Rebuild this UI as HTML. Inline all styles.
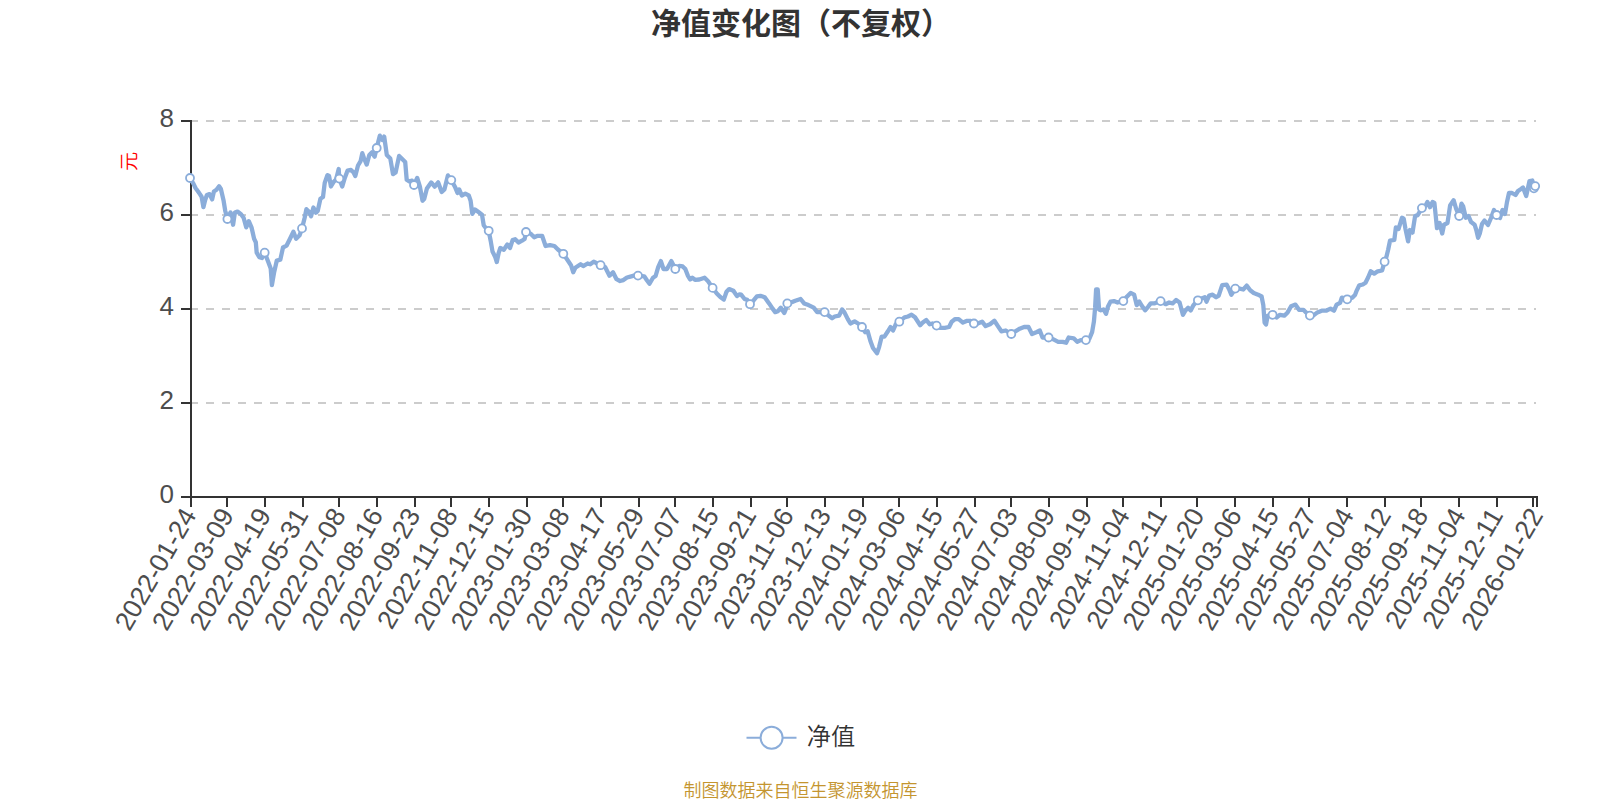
<!DOCTYPE html>
<html><head><meta charset="utf-8"><title>净值变化图（不复权）</title>
<style>html,body{margin:0;padding:0;background:#fff;}svg{display:block;}</style></head><body>
<svg width="1600" height="800" viewBox="0 0 1600 800">
<rect width="1600" height="800" fill="#fff"/>
<text x="801" y="34" text-anchor="middle" font-family='"Liberation Sans", "Noto Sans CJK SC", sans-serif' font-size="30" font-weight="bold" fill="#333">净值变化图（不复权）</text>
<line x1="190" y1="403.0" x2="1536" y2="403.0" stroke="#ccc" stroke-width="2" stroke-dasharray="8 8"/>
<line x1="190" y1="309.0" x2="1536" y2="309.0" stroke="#ccc" stroke-width="2" stroke-dasharray="8 8"/>
<line x1="190" y1="215.0" x2="1536" y2="215.0" stroke="#ccc" stroke-width="2" stroke-dasharray="8 8"/>
<line x1="190" y1="121.0" x2="1536" y2="121.0" stroke="#ccc" stroke-width="2" stroke-dasharray="8 8"/>
<line x1="191.0" y1="120" x2="191.0" y2="498.0" stroke="#333" stroke-width="2"/>
<line x1="181" y1="497.0" x2="191.0" y2="497.0" stroke="#333" stroke-width="2"/>
<text x="174" y="502.5" text-anchor="end" font-family='"Liberation Sans", "Noto Sans CJK SC", sans-serif' font-size="26" fill="#4d4d4d">0</text>
<line x1="181" y1="403.0" x2="191.0" y2="403.0" stroke="#333" stroke-width="2"/>
<text x="174" y="408.5" text-anchor="end" font-family='"Liberation Sans", "Noto Sans CJK SC", sans-serif' font-size="26" fill="#4d4d4d">2</text>
<line x1="181" y1="309.0" x2="191.0" y2="309.0" stroke="#333" stroke-width="2"/>
<text x="174" y="314.5" text-anchor="end" font-family='"Liberation Sans", "Noto Sans CJK SC", sans-serif' font-size="26" fill="#4d4d4d">4</text>
<line x1="181" y1="215.0" x2="191.0" y2="215.0" stroke="#333" stroke-width="2"/>
<text x="174" y="220.5" text-anchor="end" font-family='"Liberation Sans", "Noto Sans CJK SC", sans-serif' font-size="26" fill="#4d4d4d">6</text>
<line x1="181" y1="121.0" x2="191.0" y2="121.0" stroke="#333" stroke-width="2"/>
<text x="174" y="126.5" text-anchor="end" font-family='"Liberation Sans", "Noto Sans CJK SC", sans-serif' font-size="26" fill="#4d4d4d">8</text>
<line x1="190" y1="497.0" x2="1538.0" y2="497.0" stroke="#333" stroke-width="2"/>
<line x1="191" y1="497.0" x2="191" y2="507.0" stroke="#333" stroke-width="2"/>
<line x1="227" y1="497.0" x2="227" y2="507.0" stroke="#333" stroke-width="2"/>
<line x1="265" y1="497.0" x2="265" y2="507.0" stroke="#333" stroke-width="2"/>
<line x1="303" y1="497.0" x2="303" y2="507.0" stroke="#333" stroke-width="2"/>
<line x1="339" y1="497.0" x2="339" y2="507.0" stroke="#333" stroke-width="2"/>
<line x1="377" y1="497.0" x2="377" y2="507.0" stroke="#333" stroke-width="2"/>
<line x1="415" y1="497.0" x2="415" y2="507.0" stroke="#333" stroke-width="2"/>
<line x1="451" y1="497.0" x2="451" y2="507.0" stroke="#333" stroke-width="2"/>
<line x1="489" y1="497.0" x2="489" y2="507.0" stroke="#333" stroke-width="2"/>
<line x1="527" y1="497.0" x2="527" y2="507.0" stroke="#333" stroke-width="2"/>
<line x1="563" y1="497.0" x2="563" y2="507.0" stroke="#333" stroke-width="2"/>
<line x1="601" y1="497.0" x2="601" y2="507.0" stroke="#333" stroke-width="2"/>
<line x1="639" y1="497.0" x2="639" y2="507.0" stroke="#333" stroke-width="2"/>
<line x1="675" y1="497.0" x2="675" y2="507.0" stroke="#333" stroke-width="2"/>
<line x1="713" y1="497.0" x2="713" y2="507.0" stroke="#333" stroke-width="2"/>
<line x1="751" y1="497.0" x2="751" y2="507.0" stroke="#333" stroke-width="2"/>
<line x1="787" y1="497.0" x2="787" y2="507.0" stroke="#333" stroke-width="2"/>
<line x1="825" y1="497.0" x2="825" y2="507.0" stroke="#333" stroke-width="2"/>
<line x1="863" y1="497.0" x2="863" y2="507.0" stroke="#333" stroke-width="2"/>
<line x1="899" y1="497.0" x2="899" y2="507.0" stroke="#333" stroke-width="2"/>
<line x1="937" y1="497.0" x2="937" y2="507.0" stroke="#333" stroke-width="2"/>
<line x1="975" y1="497.0" x2="975" y2="507.0" stroke="#333" stroke-width="2"/>
<line x1="1011" y1="497.0" x2="1011" y2="507.0" stroke="#333" stroke-width="2"/>
<line x1="1049" y1="497.0" x2="1049" y2="507.0" stroke="#333" stroke-width="2"/>
<line x1="1087" y1="497.0" x2="1087" y2="507.0" stroke="#333" stroke-width="2"/>
<line x1="1123" y1="497.0" x2="1123" y2="507.0" stroke="#333" stroke-width="2"/>
<line x1="1161" y1="497.0" x2="1161" y2="507.0" stroke="#333" stroke-width="2"/>
<line x1="1197" y1="497.0" x2="1197" y2="507.0" stroke="#333" stroke-width="2"/>
<line x1="1235" y1="497.0" x2="1235" y2="507.0" stroke="#333" stroke-width="2"/>
<line x1="1273" y1="497.0" x2="1273" y2="507.0" stroke="#333" stroke-width="2"/>
<line x1="1309" y1="497.0" x2="1309" y2="507.0" stroke="#333" stroke-width="2"/>
<line x1="1347" y1="497.0" x2="1347" y2="507.0" stroke="#333" stroke-width="2"/>
<line x1="1385" y1="497.0" x2="1385" y2="507.0" stroke="#333" stroke-width="2"/>
<line x1="1421" y1="497.0" x2="1421" y2="507.0" stroke="#333" stroke-width="2"/>
<line x1="1459" y1="497.0" x2="1459" y2="507.0" stroke="#333" stroke-width="2"/>
<line x1="1497" y1="497.0" x2="1497" y2="507.0" stroke="#333" stroke-width="2"/>
<line x1="1533" y1="497.0" x2="1533" y2="507.0" stroke="#333" stroke-width="2"/>
<line x1="1537" y1="497.0" x2="1537" y2="507.0" stroke="#333" stroke-width="2"/>
<text transform="translate(189.2,510.3) rotate(-60)" x="0" y="0" dy="0.35em" text-anchor="end" font-family='"Liberation Sans", "Noto Sans CJK SC", sans-serif' font-size="26.5" fill="#4d4d4d">2022-01-24</text>
<text transform="translate(226.6,510.3) rotate(-60)" x="0" y="0" dy="0.35em" text-anchor="end" font-family='"Liberation Sans", "Noto Sans CJK SC", sans-serif' font-size="26.5" fill="#4d4d4d">2022-03-09</text>
<text transform="translate(263.9,510.3) rotate(-60)" x="0" y="0" dy="0.35em" text-anchor="end" font-family='"Liberation Sans", "Noto Sans CJK SC", sans-serif' font-size="26.5" fill="#4d4d4d">2022-04-19</text>
<text transform="translate(301.2,510.3) rotate(-60)" x="0" y="0" dy="0.35em" text-anchor="end" font-family='"Liberation Sans", "Noto Sans CJK SC", sans-serif' font-size="26.5" fill="#4d4d4d">2022-05-31</text>
<text transform="translate(338.5,510.3) rotate(-60)" x="0" y="0" dy="0.35em" text-anchor="end" font-family='"Liberation Sans", "Noto Sans CJK SC", sans-serif' font-size="26.5" fill="#4d4d4d">2022-07-08</text>
<text transform="translate(375.9,510.3) rotate(-60)" x="0" y="0" dy="0.35em" text-anchor="end" font-family='"Liberation Sans", "Noto Sans CJK SC", sans-serif' font-size="26.5" fill="#4d4d4d">2022-08-16</text>
<text transform="translate(413.2,510.3) rotate(-60)" x="0" y="0" dy="0.35em" text-anchor="end" font-family='"Liberation Sans", "Noto Sans CJK SC", sans-serif' font-size="26.5" fill="#4d4d4d">2022-09-23</text>
<text transform="translate(450.5,510.3) rotate(-60)" x="0" y="0" dy="0.35em" text-anchor="end" font-family='"Liberation Sans", "Noto Sans CJK SC", sans-serif' font-size="26.5" fill="#4d4d4d">2022-11-08</text>
<text transform="translate(487.9,510.3) rotate(-60)" x="0" y="0" dy="0.35em" text-anchor="end" font-family='"Liberation Sans", "Noto Sans CJK SC", sans-serif' font-size="26.5" fill="#4d4d4d">2022-12-15</text>
<text transform="translate(525.2,510.3) rotate(-60)" x="0" y="0" dy="0.35em" text-anchor="end" font-family='"Liberation Sans", "Noto Sans CJK SC", sans-serif' font-size="26.5" fill="#4d4d4d">2023-01-30</text>
<text transform="translate(562.5,510.3) rotate(-60)" x="0" y="0" dy="0.35em" text-anchor="end" font-family='"Liberation Sans", "Noto Sans CJK SC", sans-serif' font-size="26.5" fill="#4d4d4d">2023-03-08</text>
<text transform="translate(599.9,510.3) rotate(-60)" x="0" y="0" dy="0.35em" text-anchor="end" font-family='"Liberation Sans", "Noto Sans CJK SC", sans-serif' font-size="26.5" fill="#4d4d4d">2023-04-17</text>
<text transform="translate(637.2,510.3) rotate(-60)" x="0" y="0" dy="0.35em" text-anchor="end" font-family='"Liberation Sans", "Noto Sans CJK SC", sans-serif' font-size="26.5" fill="#4d4d4d">2023-05-29</text>
<text transform="translate(674.5,510.3) rotate(-60)" x="0" y="0" dy="0.35em" text-anchor="end" font-family='"Liberation Sans", "Noto Sans CJK SC", sans-serif' font-size="26.5" fill="#4d4d4d">2023-07-07</text>
<text transform="translate(711.8,510.3) rotate(-60)" x="0" y="0" dy="0.35em" text-anchor="end" font-family='"Liberation Sans", "Noto Sans CJK SC", sans-serif' font-size="26.5" fill="#4d4d4d">2023-08-15</text>
<text transform="translate(749.2,510.3) rotate(-60)" x="0" y="0" dy="0.35em" text-anchor="end" font-family='"Liberation Sans", "Noto Sans CJK SC", sans-serif' font-size="26.5" fill="#4d4d4d">2023-09-21</text>
<text transform="translate(786.5,510.3) rotate(-60)" x="0" y="0" dy="0.35em" text-anchor="end" font-family='"Liberation Sans", "Noto Sans CJK SC", sans-serif' font-size="26.5" fill="#4d4d4d">2023-11-06</text>
<text transform="translate(823.8,510.3) rotate(-60)" x="0" y="0" dy="0.35em" text-anchor="end" font-family='"Liberation Sans", "Noto Sans CJK SC", sans-serif' font-size="26.5" fill="#4d4d4d">2023-12-13</text>
<text transform="translate(861.2,510.3) rotate(-60)" x="0" y="0" dy="0.35em" text-anchor="end" font-family='"Liberation Sans", "Noto Sans CJK SC", sans-serif' font-size="26.5" fill="#4d4d4d">2024-01-19</text>
<text transform="translate(898.5,510.3) rotate(-60)" x="0" y="0" dy="0.35em" text-anchor="end" font-family='"Liberation Sans", "Noto Sans CJK SC", sans-serif' font-size="26.5" fill="#4d4d4d">2024-03-06</text>
<text transform="translate(935.8,510.3) rotate(-60)" x="0" y="0" dy="0.35em" text-anchor="end" font-family='"Liberation Sans", "Noto Sans CJK SC", sans-serif' font-size="26.5" fill="#4d4d4d">2024-04-15</text>
<text transform="translate(973.1,510.3) rotate(-60)" x="0" y="0" dy="0.35em" text-anchor="end" font-family='"Liberation Sans", "Noto Sans CJK SC", sans-serif' font-size="26.5" fill="#4d4d4d">2024-05-27</text>
<text transform="translate(1010.5,510.3) rotate(-60)" x="0" y="0" dy="0.35em" text-anchor="end" font-family='"Liberation Sans", "Noto Sans CJK SC", sans-serif' font-size="26.5" fill="#4d4d4d">2024-07-03</text>
<text transform="translate(1047.8,510.3) rotate(-60)" x="0" y="0" dy="0.35em" text-anchor="end" font-family='"Liberation Sans", "Noto Sans CJK SC", sans-serif' font-size="26.5" fill="#4d4d4d">2024-08-09</text>
<text transform="translate(1085.1,510.3) rotate(-60)" x="0" y="0" dy="0.35em" text-anchor="end" font-family='"Liberation Sans", "Noto Sans CJK SC", sans-serif' font-size="26.5" fill="#4d4d4d">2024-09-19</text>
<text transform="translate(1122.5,510.3) rotate(-60)" x="0" y="0" dy="0.35em" text-anchor="end" font-family='"Liberation Sans", "Noto Sans CJK SC", sans-serif' font-size="26.5" fill="#4d4d4d">2024-11-04</text>
<text transform="translate(1159.8,510.3) rotate(-60)" x="0" y="0" dy="0.35em" text-anchor="end" font-family='"Liberation Sans", "Noto Sans CJK SC", sans-serif' font-size="26.5" fill="#4d4d4d">2024-12-11</text>
<text transform="translate(1197.1,510.3) rotate(-60)" x="0" y="0" dy="0.35em" text-anchor="end" font-family='"Liberation Sans", "Noto Sans CJK SC", sans-serif' font-size="26.5" fill="#4d4d4d">2025-01-20</text>
<text transform="translate(1234.5,510.3) rotate(-60)" x="0" y="0" dy="0.35em" text-anchor="end" font-family='"Liberation Sans", "Noto Sans CJK SC", sans-serif' font-size="26.5" fill="#4d4d4d">2025-03-06</text>
<text transform="translate(1271.8,510.3) rotate(-60)" x="0" y="0" dy="0.35em" text-anchor="end" font-family='"Liberation Sans", "Noto Sans CJK SC", sans-serif' font-size="26.5" fill="#4d4d4d">2025-04-15</text>
<text transform="translate(1309.1,510.3) rotate(-60)" x="0" y="0" dy="0.35em" text-anchor="end" font-family='"Liberation Sans", "Noto Sans CJK SC", sans-serif' font-size="26.5" fill="#4d4d4d">2025-05-27</text>
<text transform="translate(1346.5,510.3) rotate(-60)" x="0" y="0" dy="0.35em" text-anchor="end" font-family='"Liberation Sans", "Noto Sans CJK SC", sans-serif' font-size="26.5" fill="#4d4d4d">2025-07-04</text>
<text transform="translate(1383.8,510.3) rotate(-60)" x="0" y="0" dy="0.35em" text-anchor="end" font-family='"Liberation Sans", "Noto Sans CJK SC", sans-serif' font-size="26.5" fill="#4d4d4d">2025-08-12</text>
<text transform="translate(1421.1,510.3) rotate(-60)" x="0" y="0" dy="0.35em" text-anchor="end" font-family='"Liberation Sans", "Noto Sans CJK SC", sans-serif' font-size="26.5" fill="#4d4d4d">2025-09-18</text>
<text transform="translate(1458.4,510.3) rotate(-60)" x="0" y="0" dy="0.35em" text-anchor="end" font-family='"Liberation Sans", "Noto Sans CJK SC", sans-serif' font-size="26.5" fill="#4d4d4d">2025-11-04</text>
<text transform="translate(1495.8,510.3) rotate(-60)" x="0" y="0" dy="0.35em" text-anchor="end" font-family='"Liberation Sans", "Noto Sans CJK SC", sans-serif' font-size="26.5" fill="#4d4d4d">2025-12-11</text>
<text transform="translate(1535.8,510.3) rotate(-60)" x="0" y="0" dy="0.35em" text-anchor="end" font-family='"Liberation Sans", "Noto Sans CJK SC", sans-serif' font-size="26.5" fill="#4d4d4d">2026-01-22</text>
<text transform="translate(129.7,161.4) rotate(-90)" x="0" y="0" dy="0.35em" text-anchor="middle" font-family='"Liberation Sans", "Noto Sans CJK SC", sans-serif' font-size="19" font-weight="350" fill="#ff0000">元</text>
<path d="M190.0,178.0 L193.4,183.6 L195.5,188.0 L198.1,191.5 L199.9,194.1 L201.6,196.7 L203.4,207.2 L205.1,200.2 L206.9,195.0 L209.5,194.1 L212.1,199.4 L213.9,191.5 L216.5,189.7 L219.1,186.2 L220.9,188.9 L223.5,200.2 L225.2,210.7 L227.4,219.0 L230.5,212.5 L233.1,224.7 L234.9,212.5 L237.5,211.6 L241.0,214.2 L243.6,217.7 L246.2,227.3 L248.8,221.2 L251.5,227.3 L254.1,238.7 L255.8,242.2 L256.7,252.7 L259.3,257.1 L262.0,258.0 L264.7,252.7 L268.1,261.5 L270.7,268.4 L271.9,285.1 L274.2,272.0 L276.8,260.6 L280.3,259.7 L283.0,247.5 L286.5,245.7 L290.0,238.7 L293.4,231.7 L296.1,238.7 L299.6,235.2 L302.0,228.4 L304.6,218.0 L306.4,209.2 L309.0,211.8 L311.1,216.2 L313.4,207.5 L316.0,212.7 L317.7,211.0 L320.4,198.7 L323.0,197.0 L324.7,183.0 L327.4,175.1 L329.1,176.0 L330.9,186.5 L333.5,182.1 L336.1,179.5 L338.7,169.0 L339.3,178.6 L342.2,186.5 L344.9,177.7 L347.5,170.7 L351.0,169.9 L353.6,172.5 L355.3,176.0 L358.0,165.5 L360.6,161.1 L362.3,153.2 L364.1,158.5 L366.7,164.6 L369.3,155.0 L372.0,152.4 L374.6,156.7 L376.7,148.0 L379.8,135.7 L382.5,140.1 L384.2,136.6 L386.8,155.0 L390.3,158.5 L393.0,174.2 L395.6,172.5 L399.1,155.9 L401.7,158.5 L405.2,162.0 L406.7,179.7 L409.4,181.5 L412.0,180.6 L414.0,185.0 L417.2,178.0 L419.9,186.7 L422.5,200.7 L424.2,199.0 L426.9,188.5 L431.2,182.4 L434.7,186.7 L438.2,182.4 L441.7,192.0 L444.4,189.4 L447.9,175.4 L451.3,180.1 L454.9,186.7 L457.5,192.9 L459.2,189.4 L461.8,195.5 L465.3,193.7 L468.8,195.5 L470.6,200.7 L472.3,213.8 L475.0,209.5 L478.5,212.1 L482.0,214.7 L483.7,225.2 L486.3,228.7 L488.7,230.8 L490.7,241.0 L492.5,251.5 L495.1,256.7 L496.8,262.0 L498.6,253.2 L500.3,248.0 L503.8,249.7 L507.3,244.5 L510.0,248.0 L512.6,240.1 L515.2,239.2 L518.5,242.5 L522.0,240.7 L524.6,239.0 L526.0,232.0 L530.7,233.7 L534.2,237.2 L537.7,235.8 L542.1,235.8 L545.6,246.0 L550.0,245.1 L554.4,246.0 L557.9,249.5 L563.3,253.8 L567.5,260.0 L571.0,265.2 L573.2,272.2 L575.3,267.8 L580.6,264.3 L583.2,266.1 L587.6,263.5 L590.2,264.3 L593.7,261.7 L597.2,263.5 L600.6,265.2 L605.1,267.0 L609.5,275.7 L613.0,272.2 L616.5,279.2 L620.0,281.0 L623.4,280.1 L627.0,277.5 L630.4,276.6 L633.9,275.7 L638.0,275.6 L644.2,276.3 L646.9,280.3 L649.5,283.8 L653.0,277.7 L655.6,276.0 L658.2,267.2 L660.9,261.1 L663.5,269.0 L667.0,269.0 L671.4,261.1 L675.3,269.0 L679.2,265.8 L682.7,266.4 L685.3,269.0 L688.0,276.0 L690.1,279.5 L692.3,277.7 L695.0,279.8 L699.3,279.5 L704.6,277.7 L708.1,281.2 L712.6,287.9 L716.8,293.5 L720.3,297.0 L723.8,299.6 L726.5,291.7 L729.1,289.1 L733.4,290.8 L737.0,296.1 L739.6,294.3 L741.1,294.6 L744.6,299.0 L747.2,299.9 L750.0,304.2 L753.4,300.7 L756.9,296.4 L760.4,295.8 L764.7,297.2 L769.1,303.4 L772.6,308.6 L775.2,312.1 L777.9,311.2 L780.8,307.7 L784.3,313.0 L785.7,309.5 L787.3,303.4 L791.0,302.5 L795.3,300.7 L800.6,299.0 L804.1,303.4 L808.5,305.1 L813.7,307.7 L817.2,312.1 L820.7,312.1 L824.6,312.1 L828.6,315.6 L832.1,318.2 L834.7,316.5 L839.1,315.6 L842.1,309.5 L844.3,312.1 L847.8,319.1 L850.4,323.5 L854.6,321.4 L858.1,323.5 L862.0,327.0 L865.1,332.2 L867.7,331.3 L870.4,341.0 L873.0,348.0 L877.0,353.2 L879.1,347.1 L881.7,336.6 L884.4,336.6 L887.9,331.3 L890.5,327.0 L893.1,330.5 L895.7,324.3 L899.3,321.7 L904.5,317.3 L908.0,316.5 L911.5,314.7 L915.0,317.3 L920.2,325.2 L922.8,322.6 L926.3,320.0 L929.8,324.3 L932.5,323.5 L936.6,325.6 L940.3,327.8 L944.7,327.8 L949.1,327.0 L951.7,321.7 L955.2,319.1 L958.7,319.1 L962.9,322.6 L967.2,320.8 L970.7,320.8 L973.9,323.5 L977.7,323.5 L982.1,321.7 L985.6,326.1 L990.0,324.3 L994.4,320.8 L997.9,326.1 L1001.4,331.3 L1005.7,330.5 L1011.3,334.0 L1015.3,331.3 L1019.7,328.7 L1024.1,327.0 L1028.5,327.0 L1032.0,334.0 L1036.3,332.2 L1039.8,330.5 L1042.5,337.5 L1048.6,337.5 L1053.0,339.2 L1058.2,341.8 L1062.6,341.8 L1066.1,342.7 L1068.7,337.5 L1073.7,338.3 L1077.2,341.8 L1080.7,340.1 L1085.9,340.1 L1089.5,338.3 L1092.1,332.2 L1093.9,321.7 L1095.1,307.7 L1096.1,289.4 L1097.7,289.4 L1099.1,309.5 L1100.9,310.3 L1103.5,309.5 L1106.1,313.8 L1107.9,306.8 L1110.5,301.6 L1114.0,301.1 L1117.5,302.5 L1123.3,301.1 L1127.1,296.4 L1130.6,292.9 L1134.1,294.6 L1136.7,305.1 L1139.3,301.6 L1142.0,306.0 L1145.1,310.3 L1148.1,306.8 L1150.7,303.4 L1154.2,303.4 L1160.6,301.1 L1165.6,304.2 L1169.1,302.5 L1172.6,303.4 L1176.1,299.9 L1179.6,302.5 L1182.9,314.8 L1185.5,310.5 L1188.1,307.8 L1190.7,310.5 L1193.4,305.2 L1197.9,300.3 L1202.1,298.2 L1204.7,297.3 L1206.5,301.7 L1209.1,295.6 L1212.6,294.7 L1216.1,297.3 L1218.7,295.6 L1222.2,285.1 L1226.6,284.6 L1229.2,289.5 L1231.3,294.7 L1235.3,288.6 L1239.7,288.6 L1243.2,289.5 L1246.7,285.6 L1250.2,290.3 L1253.7,293.0 L1258.1,294.7 L1261.6,296.5 L1263.3,305.2 L1264.6,322.7 L1266.0,324.5 L1267.7,315.7 L1270.3,314.8 L1272.6,314.8 L1276.5,317.5 L1280.0,314.8 L1284.3,315.7 L1287.6,312.4 L1291.1,306.3 L1295.5,304.6 L1299.0,309.8 L1303.4,309.8 L1306.0,312.4 L1309.9,315.6 L1313.9,315.1 L1317.4,312.4 L1321.7,310.7 L1326.1,310.7 L1330.5,308.6 L1334.0,310.7 L1336.6,304.6 L1340.1,302.8 L1341.8,297.6 L1347.2,299.3 L1352.3,297.6 L1355.0,295.0 L1356.7,290.6 L1359.3,285.3 L1362.8,284.5 L1365.5,282.7 L1368.1,277.5 L1370.7,271.3 L1374.2,273.6 L1377.7,271.3 L1382.1,270.5 L1384.6,261.7 L1386.5,256.5 L1388.2,249.5 L1390.0,240.7 L1394.3,239.9 L1395.9,227.3 L1398.5,229.1 L1402.0,217.7 L1403.7,218.6 L1405.5,229.1 L1408.1,241.3 L1409.9,230.0 L1412.5,232.6 L1415.1,216.0 L1417.7,215.1 L1421.9,208.1 L1424.7,207.2 L1427.4,202.0 L1430.0,207.2 L1432.6,202.0 L1434.4,202.9 L1437.0,228.2 L1439.6,223.0 L1442.2,233.5 L1444.0,224.7 L1447.5,223.0 L1450.1,205.5 L1453.6,200.2 L1456.2,209.0 L1459.2,216.0 L1461.5,203.7 L1463.2,206.4 L1465.8,217.7 L1468.5,216.0 L1471.1,222.1 L1474.6,224.7 L1476.3,230.0 L1478.1,237.8 L1479.8,233.5 L1482.0,224.0 L1484.5,220.5 L1488.0,225.0 L1491.0,218.0 L1494.0,210.0 L1496.6,215.0 L1500.0,218.0 L1502.5,210.0 L1505.0,214.0 L1507.0,202.0 L1509.0,193.0 L1512.0,193.0 L1515.5,195.0 L1518.0,191.0 L1521.0,189.0 L1523.0,187.5 L1526.2,196.0 L1529.5,181.0 L1532.3,180.5 L1533.9,188.3 L1535.2,186.1" fill="none" stroke="#8badda" stroke-width="4.3" stroke-linejoin="round" stroke-linecap="round"/>
<circle cx="190.0" cy="178.0" r="4.0" fill="#fff" stroke="#8badda" stroke-width="1.8"/>
<circle cx="227.4" cy="219.0" r="4.0" fill="#fff" stroke="#8badda" stroke-width="1.8"/>
<circle cx="264.7" cy="252.7" r="4.0" fill="#fff" stroke="#8badda" stroke-width="1.8"/>
<circle cx="302.0" cy="228.4" r="4.0" fill="#fff" stroke="#8badda" stroke-width="1.8"/>
<circle cx="339.3" cy="178.6" r="4.0" fill="#fff" stroke="#8badda" stroke-width="1.8"/>
<circle cx="376.7" cy="148.0" r="4.0" fill="#fff" stroke="#8badda" stroke-width="1.8"/>
<circle cx="414.0" cy="185.0" r="4.0" fill="#fff" stroke="#8badda" stroke-width="1.8"/>
<circle cx="451.3" cy="180.1" r="4.0" fill="#fff" stroke="#8badda" stroke-width="1.8"/>
<circle cx="488.7" cy="230.8" r="4.0" fill="#fff" stroke="#8badda" stroke-width="1.8"/>
<circle cx="526.0" cy="232.0" r="4.0" fill="#fff" stroke="#8badda" stroke-width="1.8"/>
<circle cx="563.3" cy="253.8" r="4.0" fill="#fff" stroke="#8badda" stroke-width="1.8"/>
<circle cx="600.6" cy="265.2" r="4.0" fill="#fff" stroke="#8badda" stroke-width="1.8"/>
<circle cx="638.0" cy="275.6" r="4.0" fill="#fff" stroke="#8badda" stroke-width="1.8"/>
<circle cx="675.3" cy="269.0" r="4.0" fill="#fff" stroke="#8badda" stroke-width="1.8"/>
<circle cx="712.6" cy="287.9" r="4.0" fill="#fff" stroke="#8badda" stroke-width="1.8"/>
<circle cx="750.0" cy="304.2" r="4.0" fill="#fff" stroke="#8badda" stroke-width="1.8"/>
<circle cx="787.3" cy="303.4" r="4.0" fill="#fff" stroke="#8badda" stroke-width="1.8"/>
<circle cx="824.6" cy="312.1" r="4.0" fill="#fff" stroke="#8badda" stroke-width="1.8"/>
<circle cx="862.0" cy="327.0" r="4.0" fill="#fff" stroke="#8badda" stroke-width="1.8"/>
<circle cx="899.3" cy="321.7" r="4.0" fill="#fff" stroke="#8badda" stroke-width="1.8"/>
<circle cx="936.6" cy="325.6" r="4.0" fill="#fff" stroke="#8badda" stroke-width="1.8"/>
<circle cx="973.9" cy="323.5" r="4.0" fill="#fff" stroke="#8badda" stroke-width="1.8"/>
<circle cx="1011.3" cy="334.0" r="4.0" fill="#fff" stroke="#8badda" stroke-width="1.8"/>
<circle cx="1048.6" cy="337.5" r="4.0" fill="#fff" stroke="#8badda" stroke-width="1.8"/>
<circle cx="1085.9" cy="340.1" r="4.0" fill="#fff" stroke="#8badda" stroke-width="1.8"/>
<circle cx="1123.3" cy="301.1" r="4.0" fill="#fff" stroke="#8badda" stroke-width="1.8"/>
<circle cx="1160.6" cy="301.1" r="4.0" fill="#fff" stroke="#8badda" stroke-width="1.8"/>
<circle cx="1197.9" cy="300.3" r="4.0" fill="#fff" stroke="#8badda" stroke-width="1.8"/>
<circle cx="1235.3" cy="288.6" r="4.0" fill="#fff" stroke="#8badda" stroke-width="1.8"/>
<circle cx="1272.6" cy="314.8" r="4.0" fill="#fff" stroke="#8badda" stroke-width="1.8"/>
<circle cx="1309.9" cy="315.6" r="4.0" fill="#fff" stroke="#8badda" stroke-width="1.8"/>
<circle cx="1347.2" cy="299.3" r="4.0" fill="#fff" stroke="#8badda" stroke-width="1.8"/>
<circle cx="1384.6" cy="261.7" r="4.0" fill="#fff" stroke="#8badda" stroke-width="1.8"/>
<circle cx="1421.9" cy="208.1" r="4.0" fill="#fff" stroke="#8badda" stroke-width="1.8"/>
<circle cx="1459.2" cy="216.0" r="4.0" fill="#fff" stroke="#8badda" stroke-width="1.8"/>
<circle cx="1496.6" cy="215.0" r="4.0" fill="#fff" stroke="#8badda" stroke-width="1.8"/>
<circle cx="1533.9" cy="188.3" r="4.0" fill="#fff" stroke="#8badda" stroke-width="1.8"/>
<circle cx="1535.2" cy="186.1" r="4.0" fill="#fff" stroke="#8badda" stroke-width="1.8"/>
<line x1="746.5" y1="737.7" x2="796.5" y2="737.7" stroke="#8badda" stroke-width="2"/>
<circle cx="771.6" cy="737.8" r="11" fill="#fff" stroke="#8badda" stroke-width="2"/>
<text x="806.8" y="744.6" font-family='"Liberation Sans", "Noto Sans CJK SC", sans-serif' font-size="24.2" font-weight="350" fill="#333">净值</text>
<text x="800.5" y="796.8" text-anchor="middle" font-family='"Liberation Sans", "Noto Sans CJK SC", sans-serif' font-size="18" font-weight="350" fill="#c4952f">制图数据来自恒生聚源数据库</text>
</svg></body></html>
